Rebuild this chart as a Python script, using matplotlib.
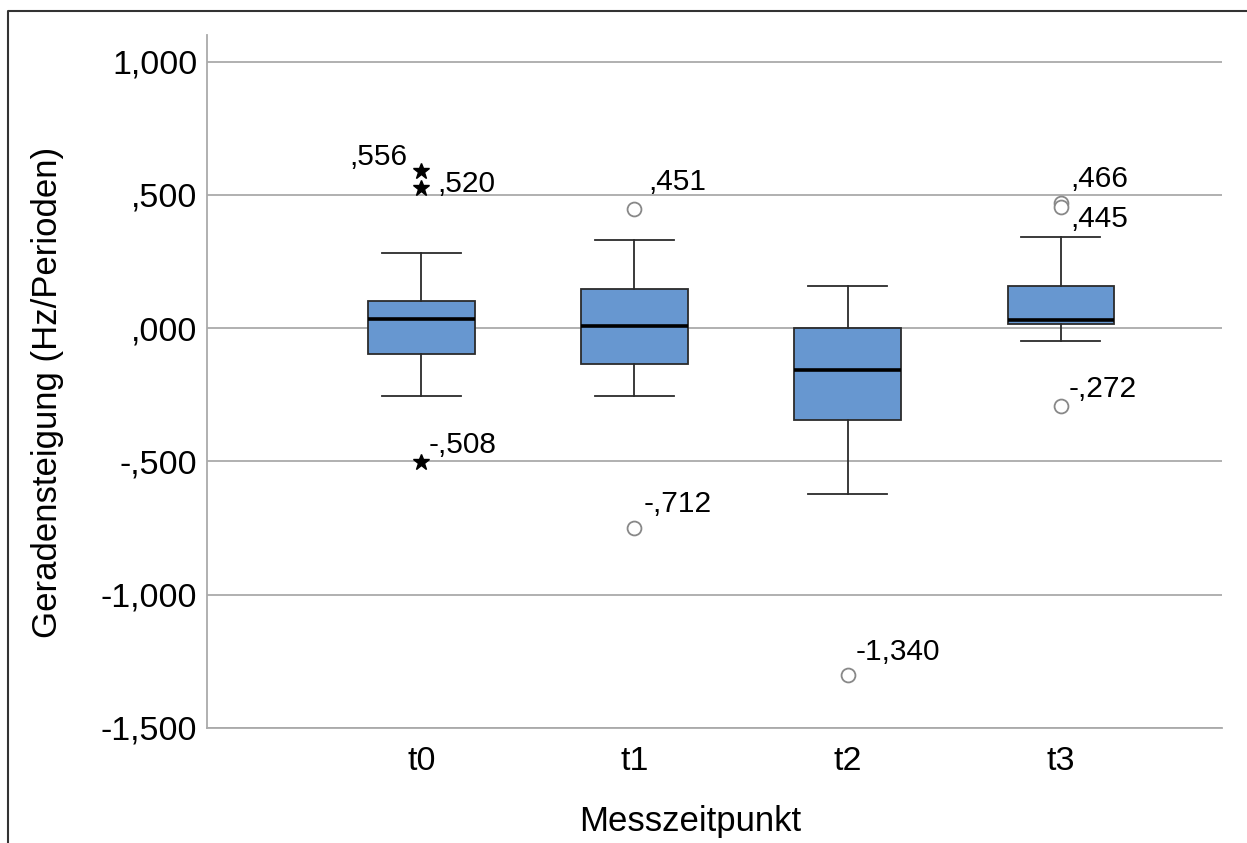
import matplotlib
matplotlib.use("Agg")
from matplotlib import pyplot as plt
from matplotlib.lines import Line2D

plt.rcParams['font.family'] = ['Liberation Sans', 'DejaVu Sans']

# boxplot values
groups = ['t0', 't1', 't2', 't3']
q1 = [-0.098, -0.133, -0.345, 0.014]
med = [0.034, 0.009, -0.155, 0.030]
q3 = [0.101, 0.146, 0.0, 0.158]
whislo = [-0.255, -0.255, -0.623, -0.049]
whishi = [0.283, 0.330, 0.158, 0.343]

# outliers: group index, value, label, marker, label offset (px)
out_grp = [0, 0, 0, 1, 1, 2, 3, 3, 3]
out_val = [0.589, 0.525, -0.502, 0.446, -0.751, -1.303, 0.470, 0.453, -0.293]
out_lab = [',556', ',520', '-,508', ',451', '-,712', '-1,340', ',466', ',445', '-,272']
out_mark = ['*', '*', '*', 'o', 'o', 'o', 'o', 'o', 'o']
out_dx = [-14, 16, 7, 14, 9, 8, 10, 10, 8]
out_dy = [6, -4, 9, 19, 16, 15, 16, -20, 9]

yticks = [1.0, 0.5, 0.0, -0.5, -1.0, -1.5]
ylabels = ['1,000', ',500', ',000', '-,500', '-1,000', '-1,500']

fig = plt.figure(figsize=(12.47, 8.43), dpi=100)
ax = fig.add_axes([207/1247, 1-728/843, 1015/1247, 693/843])

stats = []
for i in range(len(groups)):
    stats.append(dict(q1=q1[i], med=med[i], q3=q3[i], whislo=whislo[i],
                      whishi=whishi[i], fliers=[], label=groups[i]))

ax.bxp(stats, positions=range(len(groups)), widths=0.5, capwidths=0.37,
       patch_artist=True, showfliers=False,
       boxprops=dict(facecolor='#6797D0', edgecolor='#2b2b2b', linewidth=1.3),
       medianprops=dict(color='black', linewidth=2.6),
       whiskerprops=dict(color='#2b2b2b', linewidth=1.3),
       capprops=dict(color='#2b2b2b', linewidth=1.3), zorder=3)

for g, v, lab, m, dx, dy in zip(out_grp, out_val, out_lab, out_mark, out_dx, out_dy):
    if m == '*':
        ax.plot(g, v, marker='*', color='black', markersize=12, linestyle='none', zorder=4)
    else:
        ax.plot(g, v, marker='o', markerfacecolor='white', markeredgecolor='#888888',
                markersize=10, markeredgewidth=1.3, linestyle='none', zorder=4)
    ax.annotate(lab, (g, v), xytext=(dx, dy), textcoords='offset pixels',
                ha='right' if dx < 0 else 'left', va='baseline', fontsize=21.5)

ax.set_xlim(-1.005, 3.756)
ax.set_ylim(-1.5, 1.10)
ax.set_yticks(yticks)
ax.set_yticklabels(ylabels)
ax.set_xticks(range(len(groups)))
ax.set_xticklabels(groups)
ax.tick_params(length=0, labelsize=24.5)
ax.tick_params(axis='y', pad=7)
ax.tick_params(axis='x', pad=13)
ax.yaxis.grid(True, color='#aaaaaa', linewidth=1.3)
ax.set_axisbelow(True)
for s in ['top', 'right']:
    ax.spines[s].set_visible(False)
for s in ['left', 'bottom']:
    ax.spines[s].set_color('#aaaaaa')
    ax.spines[s].set_linewidth(1.3)

fig.text(690/1247, 1-822/843, 'Messzeitpunkt', ha='center', va='center', fontsize=25)
fig.text(48/1247, 1-392/843, 'Geradensteigung (Hz/Perioden)', ha='center', va='center',
         rotation=90, fontsize=25)

# outer frame (left and top only)
fig.add_artist(Line2D([8/1247, 8/1247, 1], [0, 1-11/843, 1-11/843],
                      transform=fig.transFigure, color='#333333', linewidth=1.5))

fig.savefig('out.png', dpi=100)
